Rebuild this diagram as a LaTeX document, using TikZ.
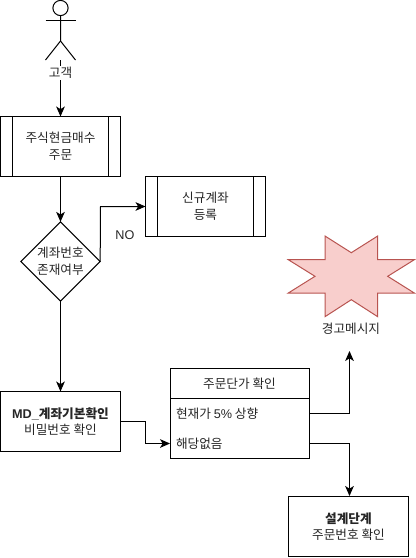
\documentclass[tikz,border=0pt]{standalone}
\usepackage{fontspec}
\setmainfont{Liberation Sans}
\newfontfamily\cjk{Noto Sans CJK KR}
\usetikzlibrary{arrows.meta,shapes.geometric,calc}
\definecolor{starline}{HTML}{B85450}
\definecolor{starfill}{HTML}{F8CECC}
\tikzset{
  every node/.style={font=\cjk\fontsize{9.5pt}{12pt}\selectfont,text=black!85,align=center,outer sep=0pt},
  ln/.style={draw=black,line width=0.75pt},
  conn/.style={ln,-{Stealth[length=7.5pt,width=6.5pt,inset=2pt]}},
  boxx/.style={ln,rectangle,minimum width=90pt,minimum height=45pt,inner sep=0pt,fill=white},
  hdr/.style={ln,rectangle,minimum width=104.25pt,minimum height=22.5pt,inner sep=0pt},
  rowlab/.style={anchor=west,inner sep=0pt},
  plain/.style={inner sep=0pt}
}
\begin{document}
\begin{tikzpicture}[x=0.75pt,y=-0.75pt]
\useasboundingbox (0,0) rectangle (415,558);
% actor
\coordinate (head) at (60.5,8);
\coordinate (neck) at (60.5,15.5);
\coordinate (hip) at (60.5,41);
\coordinate (foot) at (60.5,60);
\draw[ln] (head) circle[radius=7.6];
\draw[ln] (neck) -- (hip) -- (45.5,60);
\draw[ln] (hip) -- (75.5,60);
\draw[ln] (45.5,20.5) -- (75.5,20.5);
% boxes
\node[boxx] (order) at (60.5,146.5) {주식현금매수\\[1pt]주문};
\draw[ln] ($(order.north west)+(12,0)$) -- ($(order.south west)+(12,0)$);
\draw[ln] ($(order.north east)+(-12,0)$) -- ($(order.south east)+(-12,0)$);
\node[boxx] (newacc) at (205.5,206.5) {신규계좌\\[1pt]등록};
\draw[ln] ($(newacc.north west)+(12,0)$) -- ($(newacc.south west)+(12,0)$);
\draw[ln] ($(newacc.north east)+(-12,0)$) -- ($(newacc.south east)+(-12,0)$);
\node[ln,diamond,aspect=1,minimum width=59.5pt,minimum height=59.5pt,inner sep=0pt] (dec) at (60.5,261.5) {};
\node[plain] (declab) at (60.5,261.5) {계좌번호\\[1pt]존재여부};
\node[boxx] (md) at (60.5,421.5) {{\rmfamily\bfseries MD\_}{\bfseries 계좌기본확인}\\비밀번호 확인};
\node[boxx] (design) at (348.5,526.5) {{\bfseries 설계단계}\\주문번호 확인};
% table
\node[hdr] (thead) at (239.5,383.5) {주문단가 확인};
\node[ln,rectangle,minimum width=104.25pt,minimum height=45pt,inner sep=0pt,anchor=north] (tbody) at (thead.south) {};
\coordinate (r1e) at ($(tbody.north east)+(0,15)$);
\coordinate (r2e) at ($(tbody.north east)+(0,45)$);
\coordinate (r2w) at ($(tbody.north west)+(0,45)$);
\node[rowlab] (r1) at ($(tbody.north west)+(6,15)$) {현재가 {\rmfamily 5\%} 상향};
\node[rowlab] (r2) at ($(tbody.north west)+(6,45)$) {해당없음};
% star
\draw[draw=starline,fill=starfill,line width=0.75pt]
 (325,236) -- (351.3,252.7) -- (377.7,236) -- (377.7,259.7) -- (414.3,259.7) -- (387.7,276.3)
 -- (414.3,293) -- (377.7,293) -- (377.7,316.7) -- (351.3,299.7) -- (325,316.7) -- (325,293)
 -- (288.3,293) -- (315,276.3) -- (288.3,259.7) -- (325,259.7) -- cycle;
\node[plain] (warn) at (351,329) {경고메시지};
\coordinate (warnin) at (349.5,351);
\node[plain] (no) at (125,235) {\rmfamily NO};
% connectors
\draw[conn] (foot) -- (order.north);
\node[fill=white,inner sep=1pt] (actorlab) at (60.5,73) {고객};
\draw[conn] (order.south) -- (dec.north);
\draw[conn] (dec.east) -- (100.5,206.5) -- (newacc.west);
\draw[conn] (dec.south) -- (md.north);
\draw[conn] (md.east) -- (145.5,421.5) -- (145.5,443.5) -- (r2w);
\draw[conn] (r1e) -- (349.5,413.5) -- (warnin);
\draw[conn] (r2e) -- (349.5,443.5) -- (349.5,496);
\end{tikzpicture}
\end{document}
